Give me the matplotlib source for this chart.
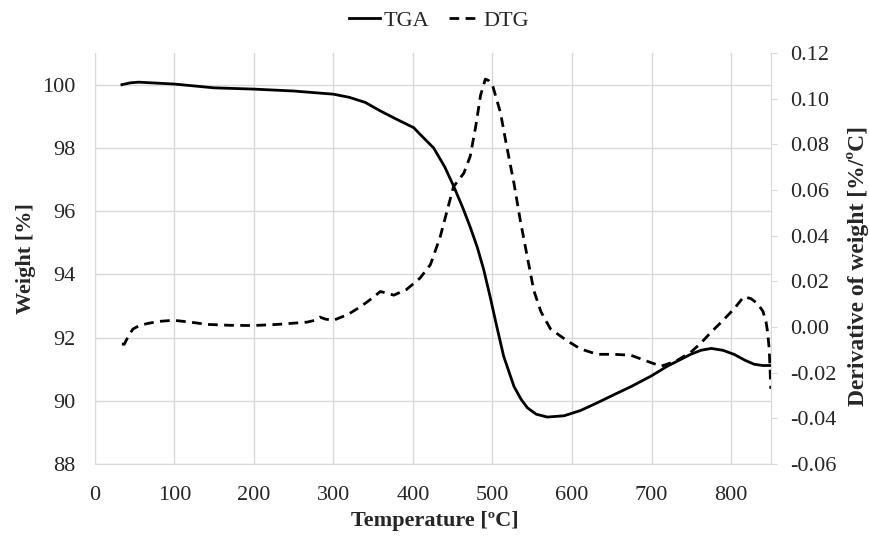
import matplotlib.pyplot as plt

plt.rcParams['font.family'] = ['Liberation Serif', 'DejaVu Serif']

# TGA curve: weight [%] vs temperature
tga_temp = [34, 45, 55, 70, 100, 150, 200, 250, 300, 320, 340, 359, 380, 401, 409, 426, 440,
            451, 462, 472, 481, 489, 497, 505, 514, 527, 536, 544, 555, 569, 590, 611,
            630, 653, 674, 699, 720, 749, 762, 775, 790, 804, 818, 829, 840, 850]
tga_weight = [100.0, 100.06, 100.08, 100.06, 100.02, 99.9, 99.86, 99.8, 99.7, 99.6, 99.44,
              99.17, 98.9, 98.64, 98.43, 98.0, 97.4, 96.8, 96.15, 95.5, 94.85, 94.15,
              93.3, 92.4, 91.42, 90.46, 90.05, 89.78, 89.58, 89.49, 89.53, 89.7, 89.92,
              90.2, 90.45, 90.78, 91.1, 91.47, 91.6, 91.66, 91.6, 91.47, 91.28, 91.16,
              91.12, 91.12]

# DTG curve: derivative of weight [%/ºC]
dtg_temp = [34, 37, 42, 48, 55, 65, 80, 99, 120, 141, 170, 199, 230, 267, 277, 283, 290,
            300, 318, 334, 348, 359, 368, 376, 392, 409, 422, 434, 443, 451, 464, 472,
            479, 485, 491, 495, 500, 510, 518, 527, 535, 544, 552, 561, 573, 594, 611,
            632, 653, 674, 695, 712, 730, 749, 762, 775, 790, 804, 816, 825, 833, 840,
            844, 846, 848, 850]
dtg_value = [-0.0074, -0.0075, -0.004, -0.0008, 0.0005, 0.0015, 0.0025, 0.003, 0.0022,
             0.0012, 0.0008, 0.0007, 0.0012, 0.0022, 0.003, 0.0044, 0.0035, 0.003, 0.0055,
             0.0089, 0.0125, 0.0156, 0.0148, 0.014, 0.0165, 0.0215, 0.0274, 0.0392, 0.051,
             0.0615, 0.0674, 0.0748, 0.088, 0.1015, 0.1086, 0.108, 0.106, 0.094, 0.079,
             0.063, 0.0467, 0.0304, 0.016, 0.0067, -0.0008, -0.006, -0.0096, -0.0119,
             -0.0119, -0.0123, -0.015, -0.0171, -0.015, -0.0111, -0.007, -0.0022, 0.003,
             0.0081, 0.0133, 0.0125, 0.0104, 0.007, 0.0022, -0.0022, -0.0096, -0.027]

fig = plt.figure(figsize=(8.7, 5.36), dpi=100)
ax = fig.add_axes([0.109, 0.134, 0.777, 0.767])
ax2 = ax.twinx()

grid_col = '#d9d9d9'
text_col = '#262626'

l1, = ax.plot(tga_temp, tga_weight, color='black', lw=2, label='TGA')
l2, = ax2.plot(dtg_temp, dtg_value, color='black', lw=2, ls=(0, (3.5, 2.3)), label='DTG')

ax.set_xlim(0, 850)
ax.set_ylim(88, 101)
ax.set_xticks(range(0, 900, 100))
ax.set_yticks(range(88, 101, 2))
ax2.set_ylim(-0.06, 0.12)
ax2.set_yticks([-0.06, -0.04, -0.02, 0.0, 0.02, 0.04, 0.06, 0.08, 0.10, 0.12])
ax2.set_yticklabels(['%.2f' % v for v in ax2.get_yticks()])

ax.grid(True, color=grid_col, lw=1)
ax.set_axisbelow(True)
for s in ['top', 'left', 'right']:
    ax.spines[s].set_visible(False)
ax.spines['bottom'].set_color(grid_col)
for s in ['top', 'left', 'bottom']:
    ax2.spines[s].set_visible(False)
ax2.spines['right'].set_color(grid_col)

ax.tick_params(axis='y', length=0, labelsize=16, colors=text_col, pad=14)
ax.tick_params(axis='x', length=0, labelsize=16, colors=text_col, pad=16)
ax2.tick_params(axis='y', length=4, color=grid_col, labelsize=16, labelcolor=text_col, pad=10)

ax.set_xlabel('Temperature [ºC]', fontsize=16, fontweight='bold', color=text_col)
ax.xaxis.label.set_va('center')
ax.xaxis.set_label_coords(0.503, -0.139)
ax.set_ylabel('Weight [%]', fontsize=16, fontweight='bold', color=text_col)
ax.yaxis.label.set_va('center')
ax.yaxis.set_label_coords(-0.102, 0.5)
ax2.set_ylabel('Derivative of weight [%/ºC]', fontsize=17, fontweight='bold', color=text_col)
ax2.yaxis.label.set_va('center')
ax2.yaxis.set_label_coords(1.129, 0.482)

fig.legend(handles=[l1, l2], loc='center', bbox_to_anchor=(0.505, 0.962), ncol=2,
           frameon=False, fontsize=16, handlelength=1.4, columnspacing=0.9, handletextpad=0.15,
           labelcolor=text_col)

fig.savefig('out.png', dpi=100)
